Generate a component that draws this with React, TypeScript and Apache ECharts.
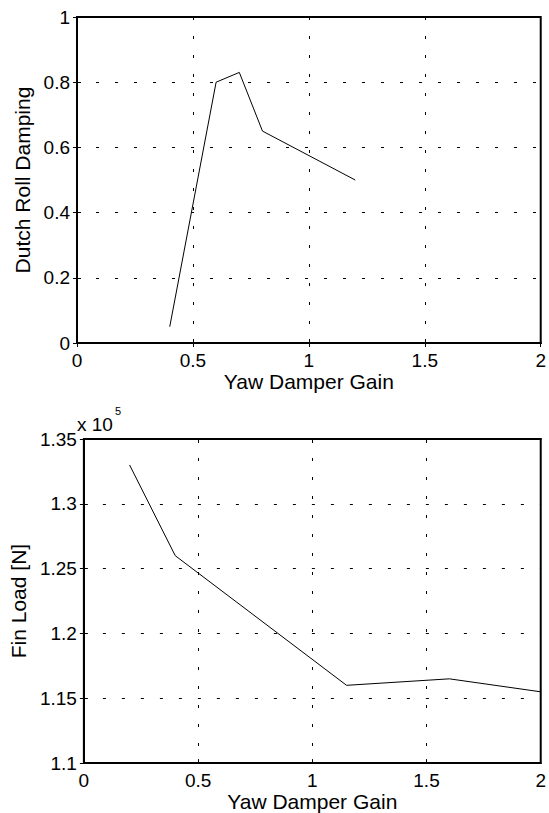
import React, { useEffect, useRef } from "react";
import * as echarts from "echarts";

// Top panel: Dutch roll damping vs yaw damper gain
const gainTop = [0.4, 0.6, 0.7, 0.8, 1.2];
const dampingValues = [0.05, 0.8, 0.83, 0.65, 0.5];

// Bottom panel: fin load [N] vs yaw damper gain
const gainBottom = [0.2, 0.4, 1.15, 1.6, 2.0];
const finLoadValues = [133000, 126000, 116000, 116500, 115500];

const xTicks = [0, 0.5, 1, 1.5, 2];
const dampingTicks = [0, 0.2, 0.4, 0.6, 0.8, 1];
const loadTicks = [110000, 115000, 120000, 125000, 130000, 135000];

const FONT = "Liberation Sans, Arial, sans-serif";
const TICK_SIZE = 19;
const NAME_SIZE = 21;

export default function App() {
  const ref = useRef<HTMLDivElement>(null);

  useEffect(() => {
    if (!ref.current) return;
    const chart = echarts.init(ref.current, undefined, { renderer: "svg" });

    const grids = [
      { left: 77, top: 17, width: 470, height: 326 },
      { left: 77, top: 439, width: 470, height: 327 },
    ];

    const splitStyle = { color: "#000", width: 1, type: [3, 16] as number[] };

    const xAxisFor = (gi: number, pos: "bottom" | "top") => ({
      type: "value",
      gridIndex: gi,
      position: pos,
      min: xTicks[0],
      max: xTicks[xTicks.length - 1],
      interval: xTicks[1] - xTicks[0],
      name: pos === "bottom" ? "Yaw Damper Gain" : "",
      nameLocation: "middle",
      nameGap: 25,
      nameTextStyle: { fontFamily: FONT, fontSize: NAME_SIZE, color: "#000" },
      axisLine: { show: true, lineStyle: { color: "#000", width: 2 } },
      axisTick: { show: true, inside: true, length: 4, lineStyle: { color: "#000" } },
      axisLabel: {
        show: pos === "bottom",
        fontFamily: FONT,
        fontSize: TICK_SIZE,
        color: "#000",
        margin: 8,
      },
      splitLine: { show: pos === "bottom", lineStyle: splitStyle },
    });

    const yAxisFor = (
      gi: number,
      pos: "left" | "right",
      ticks: number[],
      name: string,
      nameGap: number,
      fmt: (v: number) => string
    ) => ({
      type: "value",
      gridIndex: gi,
      position: pos,
      min: ticks[0],
      max: ticks[ticks.length - 1],
      interval: ticks[1] - ticks[0],
      name: pos === "left" ? name : "",
      nameLocation: "middle",
      nameRotate: 90,
      nameGap,
      nameTextStyle: { fontFamily: FONT, fontSize: NAME_SIZE, color: "#000" },
      axisLine: { show: true, lineStyle: { color: "#000", width: 2 } },
      axisTick: { show: true, inside: true, length: 4, lineStyle: { color: "#000" } },
      axisLabel: {
        show: pos === "left",
        fontFamily: FONT,
        fontSize: TICK_SIZE,
        color: "#000",
        margin: 7,
        formatter: fmt,
      },
      splitLine: { show: pos === "left", lineStyle: splitStyle },
    });

    const fmtPlain = (v: number) => String(parseFloat(v.toFixed(2)));
    const fmtE5 = (v: number) => String(parseFloat((v / 1e5).toFixed(2)));

    chart.setOption({
      animation: false,
      backgroundColor: "#fff",
      grid: grids.map((g) => ({
        ...g,
        show: true,
        borderColor: "#000",
        borderWidth: 2,
        backgroundColor: "#fff",
        containLabel: false,
      })),
      xAxis: [
        xAxisFor(0, "bottom"),
        xAxisFor(0, "top"),
        xAxisFor(1, "bottom"),
        xAxisFor(1, "top"),
      ],
      yAxis: [
        yAxisFor(0, "left", dampingTicks, "Dutch Roll Damping", 42, fmtPlain),
        yAxisFor(0, "right", dampingTicks, "", 0, fmtPlain),
        yAxisFor(1, "left", loadTicks, "Fin Load [N]", 53, fmtE5),
        yAxisFor(1, "right", loadTicks, "", 0, fmtE5),
      ],
      series: [
        {
          type: "line",
          xAxisIndex: 0,
          yAxisIndex: 0,
          data: gainTop.map((g, i) => [g, dampingValues[i]]),
          symbol: "none",
          lineStyle: { color: "#000", width: 1 },
          z: 5,
        },
        {
          type: "line",
          xAxisIndex: 2,
          yAxisIndex: 2,
          data: gainBottom.map((g, i) => [g, finLoadValues[i]]),
          symbol: "none",
          lineStyle: { color: "#000", width: 1 },
          z: 5,
        },
      ],
      graphic: [
        {
          type: "text",
          x: 77,
          y: 424,
          style: {
            text: "x 10",
            fontFamily: FONT,
            fontSize: TICK_SIZE,
            fill: "#000",
            textAlign: "left",
            textVerticalAlign: "middle",
          },
        },
        {
          type: "text",
          x: 115,
          y: 411,
          style: {
            text: "5",
            fontFamily: FONT,
            fontSize: 11,
            fill: "#000",
            textAlign: "left",
            textVerticalAlign: "middle",
          },
        },
      ],
    });

    return () => chart.dispose();
  }, []);

  return (
    <div
      ref={ref}
      style={{ position: "fixed", left: 0, top: 0, width: 549, height: 813, background: "#fff" }}
    />
  );
}
